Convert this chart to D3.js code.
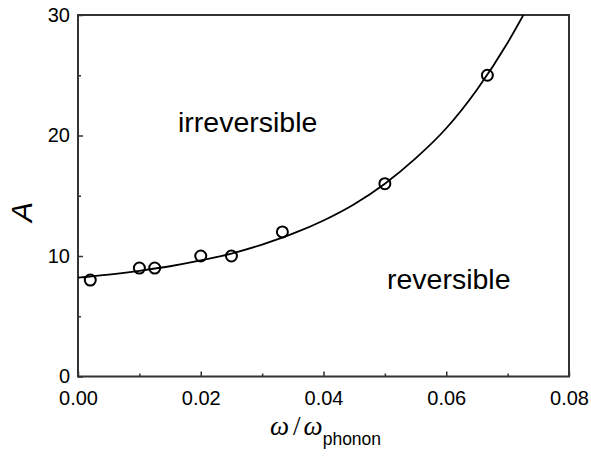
<!DOCTYPE html>
<html>
<head>
<meta charset="utf-8">
<script src="https://cdn.jsdelivr.net/npm/d3@7"></script>
<style>
  body { margin: 0; background: #fff; }
  svg { display: block; font-family: "Liberation Sans", Arial, sans-serif; }
</style>
</head>
<body>
<svg id="chart" width="591" height="462"></svg>
<script>
// measured points
const pointX = [0.002, 0.01, 0.0125, 0.02, 0.025, 0.0333, 0.05, 0.0667];
const pointA = [8, 9, 9, 10, 10, 12, 16, 25];

// fitted boundary curve
const curveX = [0, 0.005, 0.01, 0.015, 0.02, 0.025, 0.03, 0.035, 0.04, 0.045, 0.05, 0.055, 0.06, 0.065, 0.07, 0.073];
const curveA = [8.2, 8.45, 8.77, 9.15, 9.63, 10.2, 10.95, 11.85, 12.95, 14.3, 16.0, 18.1, 20.6, 23.8, 27.7, 30.4];

const xMajor = [0, 0.02, 0.04, 0.06, 0.08];
const xMinor = [0.01, 0.03, 0.05, 0.07];
const yMajor = [0, 10, 20, 30];
const yMinor = [5, 15, 25];

const svg = d3.select('#chart');
const margin = { left: 78, right: 22, top: 15, bottom: 85.5 };
const width = 591 - margin.left - margin.right;
const height = 462 - margin.top - margin.bottom;

const x = d3.scaleLinear().domain([0, 0.08]).range([0, width]);
const y = d3.scaleLinear().domain([0, 30]).range([height, 0]);

const g = svg.append('g').attr('transform', 'translate(' + margin.left + ',' + margin.top + ')');

g.append('clipPath').attr('id', 'plot-clip')
  .append('rect').attr('width', width).attr('height', height);

const axisColor = '#333';

// minor ticks first
g.append('g')
  .attr('transform', 'translate(0,' + height + ')')
  .call(d3.axisBottom(x).tickValues(xMinor).tickSize(-3).tickFormat(''))
  .call(a => a.select('.domain').remove())
  .call(a => a.selectAll('line').attr('stroke', axisColor).attr('stroke-width', 1.5));

g.append('g')
  .call(d3.axisLeft(y).tickValues(yMinor).tickSize(-3).tickFormat(''))
  .call(a => a.select('.domain').remove())
  .call(a => a.selectAll('line').attr('stroke', axisColor).attr('stroke-width', 1.5));

const xAxis = g.append('g')
  .attr('transform', 'translate(0,' + height + ')')
  .call(d3.axisBottom(x).tickValues(xMajor).tickSize(-5).tickPadding(14).tickFormat(d3.format('.2f')));
xAxis.select('.domain').remove();
xAxis.selectAll('line').attr('stroke', axisColor).attr('stroke-width', 1.5);
xAxis.selectAll('text').attr('font-size', 20).attr('fill', '#000')
  .attr('font-family', '"Liberation Sans", Arial, sans-serif');

const yAxis = g.append('g')
  .call(d3.axisLeft(y).tickValues(yMajor).tickSize(-5).tickPadding(8).tickFormat(d3.format('d')));
yAxis.select('.domain').remove();
yAxis.selectAll('line').attr('stroke', axisColor).attr('stroke-width', 1.5);
yAxis.selectAll('text').attr('font-size', 20).attr('fill', '#000')
  .attr('font-family', '"Liberation Sans", Arial, sans-serif');

// frame
g.append('rect')
  .attr('width', width)
  .attr('height', height)
  .attr('fill', 'none')
  .attr('stroke', axisColor)
  .attr('stroke-width', 2);

// boundary curve
const line = d3.line()
  .x((d, i) => x(curveX[i]))
  .y((d, i) => y(curveA[i]))
  .curve(d3.curveMonotoneX);

g.append('path')
  .attr('clip-path', 'url(#plot-clip)')
  .attr('d', line(curveX))
  .attr('fill', 'none')
  .attr('stroke', '#000')
  .attr('stroke-width', 1.8);

// markers
g.append('g')
  .selectAll('circle')
  .data(pointX)
  .enter()
  .append('circle')
  .attr('cx', d => x(d))
  .attr('cy', (d, i) => y(pointA[i]))
  .attr('r', 5.5)
  .attr('fill', 'none')
  .attr('stroke', '#000')
  .attr('stroke-width', 2);

// region labels
g.append('text')
  .attr('x', 100)
  .attr('y', 116.5)
  .attr('font-size', 28.5)
  .text('irreversible');

g.append('text')
  .attr('x', 309)
  .attr('y', 273.5)
  .attr('font-size', 28.5)
  .text('reversible');

// y title
svg.append('text')
  .attr('transform', 'translate(32,212) rotate(-90)')
  .attr('text-anchor', 'middle')
  .attr('font-size', 30)
  .attr('font-style', 'italic')
  .text('A');

// x title
const xt = svg.append('text')
  .attr('x', 270)
  .attr('y', 435);
xt.append('tspan')
  .attr('font-family', '"Liberation Serif", "Times New Roman", serif')
  .attr('font-style', 'italic')
  .attr('font-size', 27)
  .text('\u03c9');
xt.append('tspan')
  .attr('font-family', '"Liberation Serif", "Times New Roman", serif')
  .attr('font-size', 27)
  .attr('dx', 4)
  .text('/');
xt.append('tspan')
  .attr('font-family', '"Liberation Serif", "Times New Roman", serif')
  .attr('font-style', 'italic')
  .attr('font-size', 27)
  .attr('dx', 3)
  .text('\u03c9');
xt.append('tspan')
  .attr('font-size', 17.5)
  .attr('dy', 10)
  .text('phonon');
</script>
</body>
</html>
